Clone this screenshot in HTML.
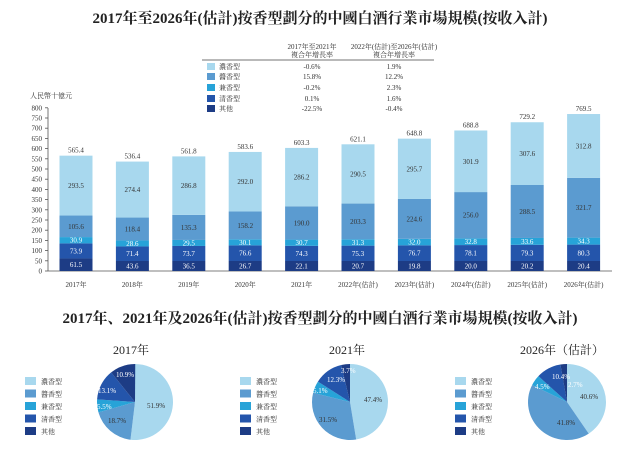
<!DOCTYPE html><html><head><meta charset="utf-8"><style>
body{margin:0;background:#fff}
svg{display:block;font-family:"Liberation Serif","Noto Serif CJK SC",serif}
.s{font-size:7px;fill:#333}
.w{font-size:7px;fill:#fff}
</style></head><body>
<svg id="c" width="640" height="451" viewBox="0 0 640 451">
<text x="320" y="23" text-anchor="middle" font-size="15" font-weight="bold" fill="#222">2017年至2026年(估計)按香型劃分的中國白酒行業市場規模(按收入計)</text>
<text x="312" y="49" class="s" text-anchor="middle">2017年至2021年</text>
<text x="312" y="57" class="s" text-anchor="middle">複合年增長率</text>
<text x="394" y="49" class="s" text-anchor="middle">2022年(估計)至2026年(估計)</text>
<text x="394" y="57" class="s" text-anchor="middle">複合年增長率</text>
<line x1="202" y1="60" x2="434" y2="60" stroke="#444" stroke-width="0.8"/>
<rect x="207" y="63" width="8" height="7" fill="#a8d8ee"/><text x="219" y="69" class="s">濃香型</text><text x="312" y="69" class="s" text-anchor="middle">-0.6%</text><text x="394" y="69" class="s" text-anchor="middle">1.9%</text>
<rect x="207" y="73" width="8" height="7" fill="#5b9bd0"/><text x="219" y="79" class="s">醬香型</text><text x="312" y="79" class="s" text-anchor="middle">15.8%</text><text x="394" y="79" class="s" text-anchor="middle">12.2%</text>
<rect x="207" y="84" width="8" height="7" fill="#27a3d8"/><text x="219" y="90" class="s">兼香型</text><text x="312" y="90" class="s" text-anchor="middle">-0.2%</text><text x="394" y="90" class="s" text-anchor="middle">2.3%</text>
<rect x="207" y="95" width="8" height="7" fill="#2455ab"/><text x="219" y="101" class="s">清香型</text><text x="312" y="101" class="s" text-anchor="middle">0.1%</text><text x="394" y="101" class="s" text-anchor="middle">1.6%</text>
<rect x="207" y="105" width="8" height="7" fill="#1d3c85"/><text x="219" y="111" class="s">其他</text><text x="312" y="111" class="s" text-anchor="middle">-22.5%</text><text x="394" y="111" class="s" text-anchor="middle">-0.4%</text>
<text x="30" y="98" class="s">人民幣十億元</text>
<line x1="48" y1="108" x2="48" y2="271" stroke="#555" stroke-width="0.8"/>
<line x1="48" y1="271" x2="612" y2="271" stroke="#555" stroke-width="0.8"/>
<g id="ax"></g>
<g id="bars"></g>
<text x="320" y="323" text-anchor="middle" font-size="15" font-weight="bold" fill="#222">2017年、2021年及2026年(估計)按香型劃分的中國白酒行業市場規模(按收入計)</text>
<text x="131" y="354" text-anchor="middle" font-size="12" fill="#222">2017年</text>
<text x="347" y="354" text-anchor="middle" font-size="12" fill="#222">2021年</text>
<text x="562" y="354" text-anchor="middle" font-size="12" fill="#222">2026年（估計）</text>
<g id="pies"></g>
<g font-size="7">
<text x="147" y="408" fill="#333">51.9%</text><text x="108" y="423" fill="#333">18.7%</text><text x="97" y="409" fill="#fff">5.5%</text><text x="98" y="393" fill="#fff">13.1%</text><text x="116" y="377" fill="#fff">10.9%</text>
<text x="364" y="402" fill="#333">47.4%</text><text x="319" y="422" fill="#333">31.5%</text><text x="313" y="393" fill="#fff">5.1%</text><text x="327" y="382" fill="#fff">12.3%</text><text x="341" y="373" fill="#fff">3.7%</text>
<text x="580" y="399" fill="#333">40.6%</text><text x="557" y="425" fill="#333">41.8%</text><text x="535" y="389" fill="#fff">4.5%</text><text x="552" y="379" fill="#fff">10.4%</text><text x="568" y="387" fill="#fff">2.7%</text>
</g>
</svg>
<script>
var C=['#1d3c85','#2455ab','#27a3d8','#5b9bd0','#a8d8ee'];
var D=[[61.5,73.9,30.9,105.6,293.5,565.4],[43.6,71.4,28.6,118.4,274.4,536.4],[36.5,73.7,29.5,135.3,286.8,561.8],[26.7,76.6,30.1,158.2,292.0,583.6],[22.1,74.3,30.7,190.0,286.2,603.3],[20.7,75.3,31.3,203.3,290.5,621.1],[19.8,76.7,32.0,224.6,295.7,648.8],[20.0,78.1,32.8,256.0,301.9,688.8],[20.2,79.3,33.6,288.5,307.6,729.2],[20.4,80.3,34.3,321.7,312.8,769.5]];
var Y=['2017年','2018年','2019年','2020年','2021年','2022年(估計)','2023年(估計)','2024年(估計)','2025年(估計)','2026年(估計)'];
var ns='http://www.w3.org/2000/svg',k=0.204,B=271;
function el(t,a,p,txt){var e=document.createElementNS(ns,t);for(var i in a)e.setAttribute(i,a[i]);if(txt!=null)e.textContent=txt;p.appendChild(e);return e;}
var ax=document.getElementById('ax');
for(var v=0;v<=800;v+=50){var y=B-v*k;el('line',{x1:45,x2:48,y1:y,y2:y,stroke:'#555','stroke-width':.8},ax);el('text',{x:42,y:y+2.5,'text-anchor':'end','class':'s','font-size':6.5},ax,String(v));}
var g=document.getElementById('bars');
D.forEach(function(d,i){var c=76+i*56.4;
 var hs=[Math.max(d[0]*k,10),Math.max(d[1]*k,13),Math.max(d[2]*k,6)];
 var top=B-d[5]*k,y0=B;
 var ly=[];
 for(var j=0;j<5;j++){var yt;
  if(j<3){yt=y0-hs[j];} else if(j==3){yt=B-(d[0]+d[1]+d[2]+d[3])*k;} else {yt=top;}
  el('rect',{x:c-16.5,y:yt,width:33,height:y0-yt,fill:C[j]},g);
  ly.push((y0+yt)/2+2.5);y0=yt;}
 for(var j=0;j<5;j++)el('text',{x:c,y:ly[j],'text-anchor':'middle','class':j<3?'w':'s'},g,d[j].toFixed(1));
 el('text',{x:c,y:top-3,'text-anchor':'middle','class':'s'},g,d[5].toFixed(1));
 el('text',{x:c,y:287,'text-anchor':'middle','class':'s','font-size':6.5},g,Y[i]);
});
var P=[[135,402,38,38,[51.9,18.7,5.5,13.1,10.9],25],[350,402,38,38,[47.4,31.5,5.1,12.3,3.7],240],[567,402,39,38,[40.6,41.8,4.5,10.4,2.7],455]];
var L=['濃香型','醬香型','兼香型','清香型','其他'],PC=['#a8d8ee','#5b9bd0','#27a3d8','#2455ab','#1d3c85'];
var pg=document.getElementById('pies');
P.forEach(function(p){var a=0,cx=p[0],cy=p[1],rx=p[2],ry=p[3];
 p[4].forEach(function(v,j){var a1=a+v/100*2*Math.PI;
  var x0=cx+rx*Math.sin(a),y0=cy-ry*Math.cos(a),x1=cx+rx*Math.sin(a1),y1=cy-ry*Math.cos(a1);
  el('path',{d:'M'+cx+','+cy+'L'+x0+','+y0+'A'+rx+','+ry+' 0 '+(v>50?1:0)+' 1 '+x1+','+y1+'Z',fill:PC[j]},pg);a=a1;});
 L.forEach(function(t,j){var y=377+j*12.5;el('rect',{x:p[5],y:y,width:11,height:8,fill:PC[j]},pg);el('text',{x:p[5]+16,y:y+7,'class':'s'},pg,t);});
});
</script>
</body></html>
